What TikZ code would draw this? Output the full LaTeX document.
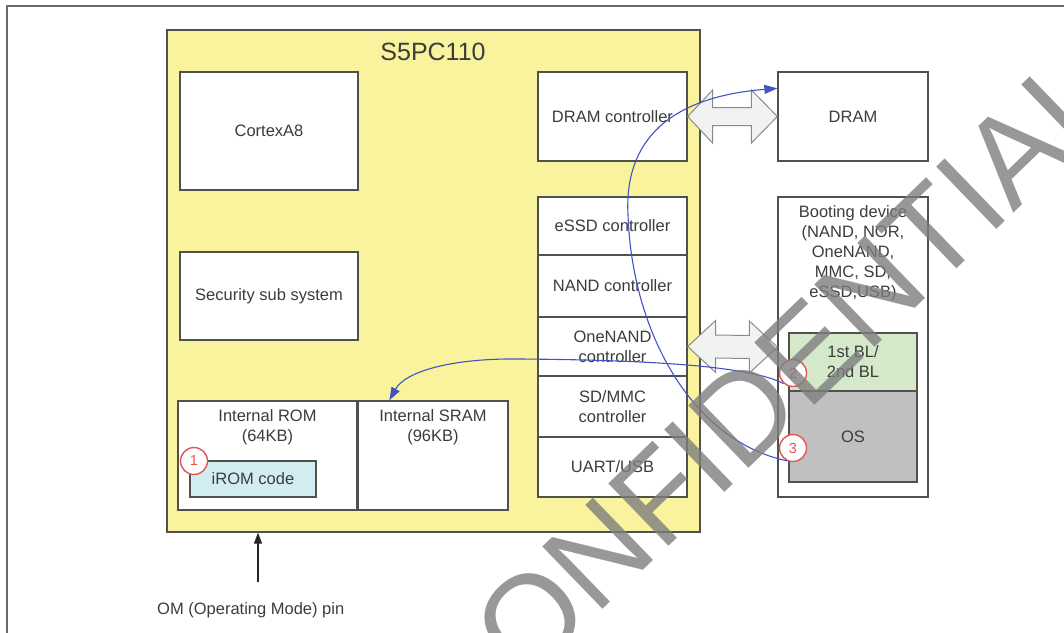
\documentclass[tikz,border=0pt]{standalone}
\usepackage{fontspec}
\setmainfont{Liberation Sans}
\usetikzlibrary{arrows.meta,calc}
\definecolor{chipyellow}{HTML}{F8F39C}
\definecolor{boxline}{HTML}{505050}
\definecolor{txt}{HTML}{3C3C3C}
\definecolor{iromcyan}{HTML}{D2EDF2}
\definecolor{blgreen}{HTML}{D4E9C9}
\definecolor{osgray}{HTML}{C0C0C0}
\definecolor{flowblue}{HTML}{4254C2}
\definecolor{markred}{HTML}{E85252}
\definecolor{arrfill}{HTML}{F1F3F1}
\definecolor{arrline}{HTML}{8A8A8A}
\definecolor{wmgray}{HTML}{7E7E7E}
\definecolor{framegray}{HTML}{6A6A6A}
\newcommand\bodyfont{\fontsize{16.5}{20}\selectfont}
\begin{document}
\begin{tikzpicture}[x=1pt,y=-1pt,
  blk/.style={draw=boxline, line width=1.3pt, fill=white, inner sep=0pt, align=center, text=txt, font=\bodyfont},
  lbl/.style={inner sep=0pt, align=center, text=txt, font=\bodyfont},
  blockarr/.style={draw=arrline, line width=1pt, fill=arrfill, line join=miter},
  flow/.style={draw=flowblue, line width=1.1pt, -{Triangle[length=13pt,width=9pt]}},
  stepmark/.style={circle, draw=markred, line width=1.4pt, fill=white, minimum size=27pt, inner sep=0pt, text=markred, font=\fontsize{14.5}{14.5}\selectfont},
]
\useasboundingbox (0,0) rectangle (1064,632);
\draw[draw=framegray, line width=1.5pt] (7,660) -- (7,6) -- (1080,6);

\node[blk, fill=chipyellow, minimum width=533pt, minimum height=502pt] (chip) at (433.5,281) {};
\node[lbl, font=\fontsize{25}{30}\selectfont] (title) at (433,52) {S5PC110};
\node[blk, minimum width=178pt, minimum height=118pt] (cortex) at (269,131) {CortexA8};
\node[blk, minimum width=178pt, minimum height=88pt] (sec) at (269,296) {Security sub system};
\node[blk, minimum width=179pt, minimum height=109pt] (rom) at (267.5,455.5) {};
\node[lbl] (romtxt) at (267.5,427.5) {Internal ROM\\(64KB)};
\node[blk, fill=iromcyan, minimum width=126pt, minimum height=36pt] (irom) at (253,479) {iROM code};
\node[blk, minimum width=150pt, minimum height=109pt] (sram) at (433,455.5) {};
\node[lbl] (sramtxt) at (433,427.5) {Internal SRAM\\(96KB)};
\node[blk, minimum width=149pt, minimum height=89pt] (dramc) at (612.5,116.5) {DRAM controller};
\node[blk, minimum width=149pt, minimum height=58pt] (essd) at (612.5,226) {eSSD controller};
\node[blk, minimum width=149pt, minimum height=62pt] (nand) at (612.5,286) {NAND controller};
\node[blk, minimum width=149pt, minimum height=59pt] (onenand) at (612.5,346.5) {OneNAND\\controller};
\node[blk, minimum width=149pt, minimum height=61pt] (sdmmc) at (612.5,406.5) {SD/MMC\\controller};
\node[blk, minimum width=149pt, minimum height=60pt] (uart) at (612.5,467) {UART/USB};
\node[blk, minimum width=150pt, minimum height=89pt] (dram) at (853,116.5) {DRAM};
\node[blk, minimum width=150pt, minimum height=300pt] (boot) at (853,347) {};
\node[lbl] (boottxt) at (853,253) {Booting device\\(NAND, NOR,\\OneNAND,\\MMC, SD,\\eSSD,USB)};
\node[blk, fill=blgreen, minimum width=128pt, minimum height=58pt] (bl) at (853,362) {1st BL/\\2nd BL};
\node[blk, fill=osgray, minimum width=128pt, minimum height=91pt] (os) at (853,436.5) {OS};

% block double arrows
\draw[blockarr] (dramc.east) -- ++(25,-26.5) -- ++(0,17.5) -- ($(dram.west)+(-26,-9)$) -- ++(0,-17.5) -- (dram.west) -- ++(-26,26.5) -- ++(0,-17.5) -- ($(dramc.east)+(25,9)$) -- ++(0,17.5) -- cycle;
\draw[blockarr] (onenand.east) -- ++(28,-26) -- ++(0,14.5) -- ($(boot.west)+(-28,-11.5)$) -- ++(0,-14.5) -- (boot.west) -- ++(-28,26) -- ++(0,-14.5) -- ($(onenand.east)+(28,11.5)$) -- ++(0,14.5) -- cycle;

% step marks
\node[stepmark] (c1) at (194,461) {1};
\node[stepmark] (c2) at (793,373) {2};
\node[stepmark] (c3) at (793,448) {3};

% flows
\coordinate (sramtip) at ($(sram.north west)+(32,0)$);
\coordinate (dramtip) at ($(dram.north west)+(0,17)$);
\draw[flow] (c2.228) .. controls (750,366) and (650,360) .. (520,359) .. controls (450,358) and (405,372) .. (sramtip);
\draw[flow] (c3.245) .. controls (690,440) and (632,330) .. (628,215) .. controls (624,140) and (670,97) .. (dramtip);

% OM pin
\coordinate (ompin) at (258,582);
\draw[draw=black!85, line width=1.3pt, -{Triangle[length=11pt,width=8pt]}] (ompin) -- (ompin |- chip.south);
\node[lbl, anchor=west] (omtxt) at (157,610) {OM (Operating Mode) pin};

% watermark
\node[rotate=44, text=wmgray, opacity=0.8, inner sep=0pt, font=\fontsize{126}{126}\selectfont] (wm) at (762,396) {CONFIDENTIAL};
\end{tikzpicture}
\end{document}
